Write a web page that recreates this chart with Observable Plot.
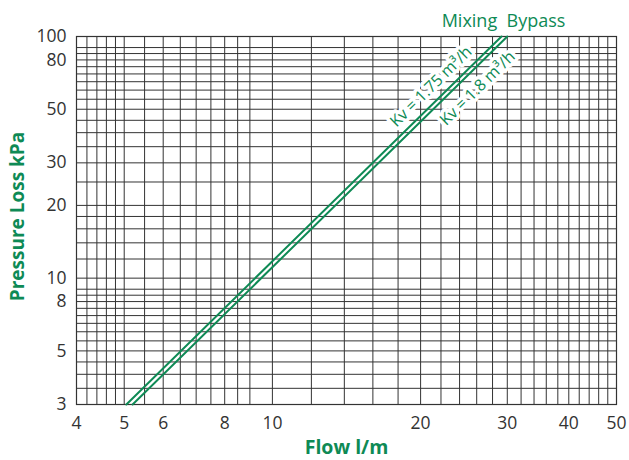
<!DOCTYPE html>
<html><head><meta charset="utf-8">
<script src="https://cdn.jsdelivr.net/npm/d3@7"></script>
<script src="https://cdn.jsdelivr.net/npm/@observablehq/plot@0.6"></script>
<style>body{margin:0;background:#fff}</style>
</head><body><div id="chart"></div>
<script>
// Series: end points of each straight log-log line
const seriesNames = ["Kv = 1.75 m³/h", "Kv = 1.8 m³/h"];
const flow175 = [5.05, 29.2];
const pressure175 = [3, 100];
const flow18 = [5.2, 30];
const pressure18 = [3, 100];
// Label anchor (centre) of each series label, in data units
const labelFlow = [21.0, 26.1];
const labelPressure = [62, 61];
// Axes
const xTicks = [4, 5, 6, 8, 10, 20, 30, 40, 50];
const yTicks = [3, 5, 8, 10, 20, 30, 50, 80, 100];
const xGrid = [4.2, 4.4, 4.6, 4.8, 5, 5.5, 6, 6.5, 7, 7.5, 8, 8.5, 9, 10,
  12, 14, 16, 18, 20, 22, 24, 26, 28, 30, 32, 34, 36, 38, 40, 42, 44, 46, 48];
const yGrid = [3.5, 4, 4.5, 5, 5.5, 6, 6.5, 7, 7.5, 8, 8.5, 9, 10, 12, 14, 16, 18,
  20, 25, 30, 35, 40, 45, 50, 55, 60, 65, 70, 75, 80, 85, 90];
const title = "Mixing  Bypass";
const xLabel = "Flow l/m";
const yLabel = "Pressure Loss kPa";

const green = "#0e8a55";
const gridColor = "#333";
const tickColor = "#333";
const font = "'Open Sans', 'Noto Sans', sans-serif";

const rows = [
  ...flow175.map((f, i) => ({series: seriesNames[0], flow: f, pressure: pressure175[i]})),
  ...flow18.map((f, i) => ({series: seriesNames[1], flow: f, pressure: pressure18[i]}))
];
const labels = seriesNames.map((s, i) => ({text: s, flow: labelFlow[i], pressure: labelPressure[i]}));

const chart = Plot.plot({
  width: 629,
  height: 460,
  marginLeft: 76,
  marginRight: 13,
  marginTop: 36,
  marginBottom: 56,
  style: {fontFamily: font, fontSize: "17px", color: tickColor, background: "#fff"},
  x: {type: "log", domain: [4, 50], axis: null},
  y: {type: "log", domain: [3, 100], axis: null},
  marks: [
    Plot.ruleX(xGrid, {stroke: gridColor, strokeWidth: 1}),
    Plot.ruleY(yGrid, {stroke: gridColor, strokeWidth: 1}),
    Plot.frame({stroke: gridColor, strokeWidth: 1.2}),
    // tick labels
    Plot.text(xTicks, {x: d => d, text: d => String(d), frameAnchor: "bottom", dy: 19,
      lineAnchor: "middle", textAnchor: "middle", fill: tickColor, fontSize: 17.5}),
    Plot.text(yTicks, {y: d => d, text: d => String(d), frameAnchor: "left", dx: -10,
      lineAnchor: "middle", textAnchor: "end", fill: tickColor, fontSize: 17.5}),
    Plot.text(labels, {x: "flow", y: "pressure", text: "text", rotate: -44.5,
      fill: green, stroke: "white", strokeWidth: 7, fontSize: 16,
      textAnchor: "middle", lineAnchor: "middle"}),
    Plot.line(rows, {x: "flow", y: "pressure", z: "series", stroke: green, strokeWidth: 2}),
    Plot.text([title], {text: d => d, frameAnchor: "top-left", dx: 427, dy: -15,
      lineAnchor: "middle", textAnchor: "middle", fill: green, fontSize: 18}),
    Plot.text([xLabel], {text: d => d, frameAnchor: "bottom", dy: 43,
      lineAnchor: "middle", textAnchor: "middle", fill: green, fontSize: 19.5, fontWeight: "bold"}),
    Plot.text([yLabel], {text: d => d, frameAnchor: "left", dx: -59, dy: -4, rotate: -90,
      lineAnchor: "middle", textAnchor: "middle", fill: green, fontSize: 19, fontWeight: "bold"})
  ]
});
document.getElementById("chart").appendChild(chart);
</script>
</body></html>
